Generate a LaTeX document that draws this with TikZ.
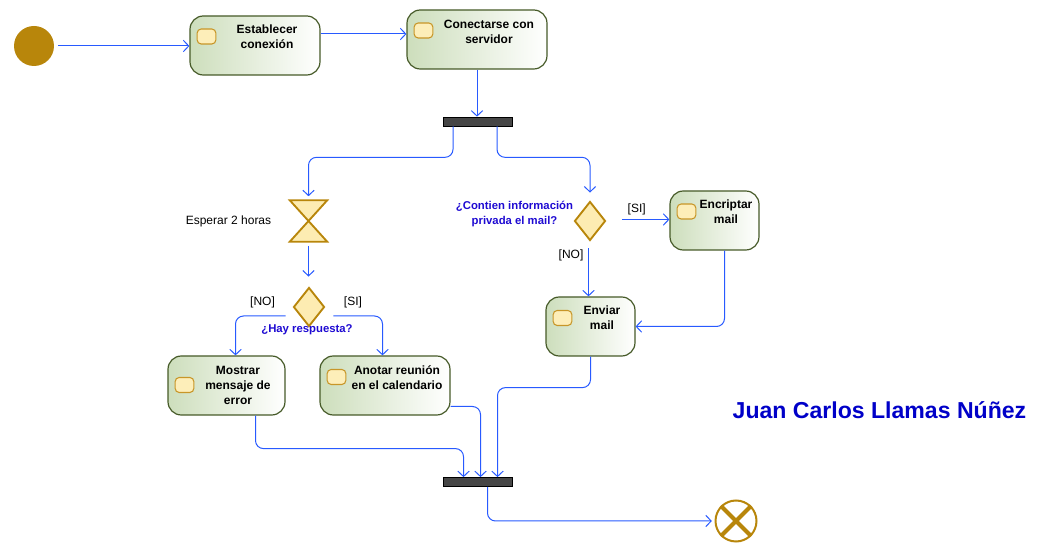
\documentclass[tikz,border=0pt]{standalone}
\usepackage{fontspec}
\setmainfont{Liberation Sans}
\usetikzlibrary{arrows.meta,shapes.geometric,calc}
\definecolor{conn}{RGB}{40,90,255}
\definecolor{gold}{RGB}{184,134,11}
\definecolor{actborder}{RGB}{70,90,40}
\definecolor{actgreen}{RGB}{205,222,188}
\definecolor{iconfill}{RGB}{253,238,185}
\definecolor{iconborder}{RGB}{200,150,40}
\definecolor{diafill}{RGB}{253,236,178}
\definecolor{bluetext}{RGB}{30,10,210}
\definecolor{namecol}{RGB}{0,0,200}
\definecolor{barfill}{RGB}{70,70,70}
\tikzset{
 actbox/.style={draw=actborder, line width=0.9pt, rounded corners=10pt, left color=actgreen, right color=white, minimum height=44.25pt, inner sep=0pt},
 acticon/.style={draw=iconborder, fill=iconfill, line width=0.8pt, rounded corners=3pt, minimum width=14pt, minimum height=11.25pt, inner sep=0pt},
 acttext/.style={font=\bfseries\fontsize{9}{11.25}\selectfont, align=center, inner sep=0pt},
 flow/.style={draw=conn, line width=0.75pt, rounded corners=6pt, -{Straight Barb[length=4pt,width=8.5pt]}},
 decision/.style={diamond, draw=gold, fill=diafill, line width=1.4pt, minimum width=23.25pt, minimum height=29.25pt, inner sep=0pt},
 syncbar/.style={draw=black, fill=barfill, line width=0.5pt, minimum width=51.75pt, minimum height=6.75pt, inner sep=0pt},
 guard/.style={font=\fontsize{9}{11}\selectfont, inner sep=0pt},
 question/.style={font=\bfseries\fontsize{8.5}{11.25}\selectfont, text=bluetext, align=center, inner sep=0pt},
}
\begin{document}
\begin{tikzpicture}[x=0.75pt,y=-0.75pt]
\useasboundingbox (0,0) rectangle (1040,555);
% start
\node[circle, fill=gold, minimum size=30pt, inner sep=0pt] (start) at (34,46) {};
% activities
\node[actbox, minimum width=97.5pt] (est) at (255,45.5) {};
\node[acticon] (esticon) at (206.5,36.5) {};
\node[acttext] (esttext) at (267,37) {Establecer\\conexión};

\node[actbox, minimum width=105pt] (con) at (477,39.5) {};
\node[acticon] (conicon) at (423.5,30.5) {};
\node[acttext] (context) at (489,31.5) {Conectarse con\\servidor};

\node[actbox, minimum width=87.75pt] (mos) at (226.5,385.5) {};
\node[acticon] (mosicon) at (184.5,385) {};
\node[acttext] (mostext) at (238,385) {Mostrar\\mensaje de\\error};

\node[actbox, minimum width=97.5pt] (ano) at (385,385.5) {};
\node[acticon] (anoicon) at (336.5,377) {};
\node[acttext] (anotext) at (397,377.5) {Anotar reunión\\en el calendario};

\node[actbox, minimum width=66.75pt] (enc) at (714.5,220.5) {};
\node[acticon] (encicon) at (686.5,211.5) {};
\node[acttext] (enctext) at (726,212) {Encriptar\\mail};

\node[actbox, minimum width=66.75pt] (env) at (590.5,326.5) {};
\node[acticon] (envicon) at (562.5,318) {};
\node[acttext] (envtext) at (602,318) {Enviar\\mail};
% bars
\node[syncbar] (fork) at (477.5,121.5) {};
\node[syncbar] (join) at (477.5,482) {};
% hourglass
\node[minimum width=27.75pt, minimum height=30.75pt, inner sep=0pt] (hg) at (308.5,221) {};
\draw[draw=gold, fill=diafill, line width=1.4pt] (hg.north west) -- (hg.north east) -- (hg.south west) -- (hg.south east) -- cycle;
% decisions
\node[decision] (d1) at (309,307) {};
\node[decision] (d2) at (590,221) {};
% end
\node[circle, draw=gold, fill=white, line width=1.5pt, minimum size=30.75pt, inner sep=0pt] (end) at (736,521) {};
\draw[gold, line width=3pt] (end.north west) -- (end.south east) (end.north east) -- (end.south west);
% coordinates
\coordinate (e1) at ($(est.east)+(0,-11.5)$);
\coordinate (f1) at ($(fork.south)+(-24.5,0)$);
\coordinate (f2) at ($(fork.south)+(19.5,0)$);
\coordinate (n1) at ($(d1.west)+(-7,9)$);
\coordinate (s1) at ($(d1.east)+(8,9)$);
\coordinate (min) at ($(mos.north)+(9,0)$);
\coordinate (ain) at ($(ano.north)+(-2.5,0)$);
\coordinate (s2) at ($(d2.east)+(15.5,-1.5)$);
\coordinate (n2) at ($(d2.south)+(-1.5,7)$);
\coordinate (e2) at ($(enc.south)+(10,0)$);
\coordinate (m2) at ($(mos.south)+(29,0)$);
\coordinate (a2) at ($(ano.east)+(0,21)$);
\coordinate (j1) at ($(join.north)+(-14,0)$);
\coordinate (j2) at ($(join.north)+(3,0)$);
\coordinate (j3) at ($(join.north)+(20,0)$);
\coordinate (j4) at ($(join.south)+(10,0)$);
% connectors
\draw[flow] ([xshift=3pt]start.east) -- (start.east -| est.west);
\draw[flow] (e1) -- (e1 -| con.west);
\draw[flow] (con.south) -- (con.south |- fork.north);
\draw[flow, shorten >=3pt] (f1) -- ++(0,31) -| (hg.north);
\draw[flow, shorten >=6pt] (f2) -- ++(0,31) -| (d2.north);
\draw[flow, shorten <=3pt, shorten >=7.5pt] (hg.south) -- (hg.south |- d1.north);
\draw[flow] (n1) -| (min);
\draw[flow] (s1) -| (ain);
\draw[flow] (s2) -- (s2 -| enc.west);
\draw[flow] (n2) -- (n2 |- env.north);
\draw[flow] (e2) |- (env.east);
\draw[flow] (m2) -- ++(0,33) -| (j1);
\draw[flow] (a2) -| (j2);
\draw[flow] (env.south) -- ++(0,31) -| (j3);
\draw[flow, shorten >=2pt] (j4) |- (end.west);
% labels
\node[guard] (esperar) at (228.5,221) {Esperar 2 horas};
\node[guard] (no1) at (262.5,302.5) {[NO]};
\node[guard] (si1) at (353,302) {[SI]};
\node[question] (q1) at (307,329.5) {¿Hay respuesta?};
\node[question] (q2) at (514.5,214) {¿Contien información\\privada el mail?};
\node[guard] (si2) at (636.7,209) {[SI]};
\node[guard] (no2) at (571,255) {[NO]};
\node[font=\bfseries\fontsize{17.3}{20}\selectfont, text=namecol, inner sep=0pt] (author) at (879.5,410.5) {Juan Carlos Llamas Núñez};
\end{tikzpicture}
\end{document}
